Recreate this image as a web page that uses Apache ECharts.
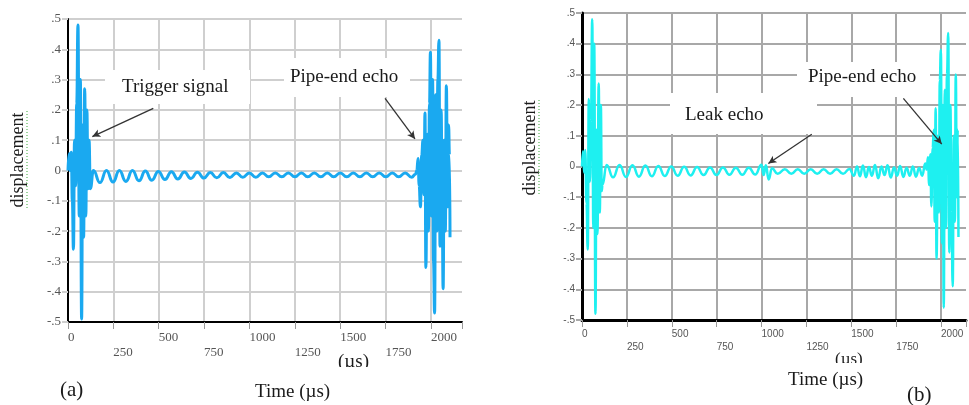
<!DOCTYPE html>
<html><head><meta charset="utf-8">
<script src="https://cdn.jsdelivr.net/npm/echarts@6/dist/echarts.min.js"></script>
<style>html,body{margin:0;padding:0;background:#fff}#c{width:969px;height:405px}</style>
</head><body><div id="c"></div>
<script>
// ---- data (time in µs, displacement) ----
const xTickValues = [0, 250, 500, 750, 1000, 1250, 1500, 1750, 2000];
const yTickValues = [-0.5, -0.4, -0.3, -0.2, -0.1, 0, 0.1, 0.2, 0.3, 0.4, 0.5];

const triggerA = [[0,0],[6,0.055],[12,0.0],[18,0.06],[24,-0.1],[30,-0.26],[36,0.1],[42,-0.05],[48,0.22],[55,0.48],[62,-0.15],[68,0.3],[75,-0.49],[81,0.15],[86,-0.22],[92,0.27],[98,-0.15],[104,0.2],[110,-0.06],[116,0.1],[123,-0.06]];
const rippleA = [[140,0.0],[176,-0.04],[212,0.0],[248,-0.038],[283,0.0],[319,-0.036],[355,0.0],[391,-0.034],[426,-0.002],[462,-0.032],[498,-0.003],[534,-0.03],[570,-0.004],[605,-0.028],[641,-0.005],[677,-0.026],[713,-0.006],[749,-0.025],[784,-0.007],[820,-0.024],[856,-0.007],[892,-0.023],[928,-0.008],[963,-0.022],[999,-0.008],[1035,-0.022],[1071,-0.008],[1106,-0.021],[1142,-0.008],[1178,-0.021],[1214,-0.008],[1250,-0.021],[1286,-0.008],[1321,-0.021],[1357,-0.008],[1393,-0.021],[1429,-0.008],[1464,-0.021],[1500,-0.008],[1536,-0.021],[1572,-0.008],[1608,-0.021],[1644,-0.008],[1679,-0.021],[1715,-0.008],[1751,-0.021],[1787,-0.008],[1822,-0.021],[1858,-0.008],[1894,-0.022],[1915,-0.012]];
const echoA = [[1922,0.0],[1929,0.04],[1935,-0.05],[1942,-0.12],[1949,0.05],[1956,0.1],[1962,-0.08],[1967,0.19],[1972,-0.32],[1979,0.12],[1986,-0.2],[1992,0.22],[1997,0.39],[2003,-0.15],[2009,0.3],[2014,-0.3],[2020,-0.47],[2026,0.25],[2032,-0.2],[2038,0.3],[2044,0.43],[2050,-0.25],[2056,0.2],[2062,-0.15],[2067,-0.39],[2073,0.1],[2079,-0.2],[2085,0.28],[2091,-0.12],[2097,0.15],[2102,0.05],[2105,-0.22]];

const triggerB = [[0,0],[6,0.05],[12,-0.02],[18,0.054],[25,-0.12],[32,-0.27],[38,0.22],[44,-0.05],[50,0.15],[57,0.48],[63,-0.2],[68,0.4],[75,-0.48],[81,0.12],[86,-0.22],[93,0.27],[99,-0.15],[105,0.2],[110,-0.08],[114,-0.06]];
const rippleB = [[137,0.005],[173,-0.035],[209,0.005],[245,-0.034],[281,0.004],[317,-0.033],[353,0.003],[389,-0.032],[425,0.002],[461,-0.031],[497,0.0],[533,-0.03],[569,-0.001],[605,-0.029],[641,-0.002],[677,-0.028],[713,-0.003],[749,-0.028],[785,-0.003],[821,-0.027],[857,-0.004],[893,-0.027],[929,-0.004],[965,-0.026],[1000,0.006],[1012,-0.028],[1024,0.004],[1040,-0.042],[1058,-0.006],[1090,-0.024],[1130,-0.009],[1166,-0.024],[1202,-0.009],[1238,-0.024],[1274,-0.009],[1310,-0.024],[1346,-0.009],[1382,-0.024],[1418,-0.009],[1454,-0.024],[1490,-0.008],[1515,-0.03],[1532,0.0],[1548,-0.032],[1565,0.003],[1582,-0.035],[1598,-0.002],[1615,-0.03],[1632,0.005],[1650,-0.038],[1668,0.0],[1685,-0.028],[1702,0.004],[1720,-0.036],[1738,-0.003],[1755,-0.03],[1772,0.002],[1790,-0.034],[1808,-0.004],[1826,-0.03],[1843,0.0],[1860,-0.033],[1878,-0.005],[1895,-0.03],[1912,0.01]];
const echoB = [[1920,-0.01],[1927,0.03],[1934,-0.06],[1941,0.04],[1946,-0.13],[1953,0.06],[1960,0.12],[1965,-0.18],[1970,0.19],[1975,-0.3],[1982,0.1],[1988,-0.15],[1993,0.28],[1999,0.38],[2005,-0.25],[2010,0.2],[2015,-0.46],[2021,0.25],[2027,-0.2],[2033,0.3],[2040,0.435],[2046,-0.28],[2052,0.2],[2058,-0.15],[2065,-0.39],[2071,0.1],[2077,-0.18],[2082,0.3],[2088,-0.1],[2093,0.12],[2097,-0.23]];

// annotation arrows [fromT, fromV, toT, toV]
const arrowTriggerA = [470, 0.205, 134, 0.112];
const arrowEchoA = [1747, 0.238, 1912, 0.104];
const arrowLeakB = [1280, 0.105, 1038, 0.01];
const arrowEchoB = [1790, 0.222, 2004, 0.073];

const chart = echarts.init(document.getElementById('c'), null, {renderer: 'canvas'});
const serif = "'Liberation Serif','Times New Roman',serif";
const sans = "'Liberation Sans',Arial,sans-serif";

function yFmt(v) {
  const r = Math.round(v * 10);
  if (r === 0) return '0';
  const s = (Math.abs(r) / 10).toFixed(1).replace(/^0/, '');
  return (r < 0 ? '-' : '') + s;
}
function xFmt(v) {
  if (xTickValues.indexOf(v) < 0) return '';
  return (v % 500 === 0) ? String(v) : '\n' + v;
}
function arrow(a) {
  return {
    silent: true, symbol: ['none', 'arrow'], symbolSize: [6, 8], animation: false,
    lineStyle: {color: '#333', width: 1.3, type: 'solid'}, label: {show: false},
    emphasis: {disabled: true},
    data: [[{coord: [a[0], a[1]]}, {coord: [a[2], a[3]]}]]
  };
}
function xAxisCfg(idx, max, font, size, lh, gridColor, gridW, axW) {
  return {
    type: 'value', gridIndex: idx, min: 0, max: max, interval: 250,
    axisLine: {onZero: false, lineStyle: {color: '#000', width: axW}},
    axisTick: {show: true, length: 7, lineStyle: {color: '#999', width: 1}},
    axisLabel: {formatter: xFmt, align: 'left', margin: 8, fontFamily: font, fontSize: size, lineHeight: lh, color: '#555'},
    splitLine: {show: true, lineStyle: {color: [gridColor,gridColor,gridColor,gridColor,gridColor,gridColor,gridColor,gridColor,gridColor,'rgba(0,0,0,0)'], width: gridW}}
  };
}
function yAxisCfg(idx, font, size, gridColor, gridW, axW) {
  return {
    type: 'value', gridIndex: idx, min: -0.5, max: 0.5, interval: 0.1,
    axisLine: {show: true, onZero: false, lineStyle: {color: '#000', width: axW}},
    axisTick: {show: true, length: 6, lineStyle: {color: gridColor, width: gridW}},
    axisLabel: {formatter: yFmt, margin: 7, fontFamily: font, fontSize: size, color: '#555'},
    splitLine: {show: true, lineStyle: {color: gridColor, width: gridW}}
  };
}
function whiteBox(x, y, w, h, z) {
  return {type: 'rect', z: z || 1, silent: true, shape: {x: x, y: y, width: w, height: h}, style: {fill: '#fff'}};
}
function txt(x, y, s, size, extra) {
  return Object.assign({type: 'text', z: 10, silent: true, x: x, y: y,
    style: {text: s, font: size + 'px ' + serif, fill: '#1a1a1a', textAlign: 'left', textVerticalAlign: 'middle'}}, extra || {});
}

const option = {
  animation: false,
  backgroundColor: '#fff',
  grid: [
    {left: 68, top: 19, width: 394, height: 303},
    {left: 582, top: 13, width: 384, height: 307}
  ],
  xAxis: [
    xAxisCfg(0, 2171, serif, 13, 15, '#cfcfcf', 2, 2),
    xAxisCfg(1, 2139, sans, 10, 13, '#a8a8a8', 2, 3)
  ],
  yAxis: [
    yAxisCfg(0, serif, 13, '#cfcfcf', 2, 2),
    yAxisCfg(1, sans, 10, '#a8a8a8', 2, 3)
  ],
  series: [
    {type: 'line', xAxisIndex: 0, yAxisIndex: 0, data: triggerA.concat(rippleA, echoA),
     showSymbol: false, smooth: 0.5, smoothMonotone: 'x', lineStyle: {color: '#1aa9f0', width: 3}, z: 3},
    {type: 'line', xAxisIndex: 0, yAxisIndex: 0, data: [], markLine: arrow(arrowTriggerA), z: 4},
    {type: 'line', xAxisIndex: 0, yAxisIndex: 0, data: [], markLine: arrow(arrowEchoA), z: 4},
    {type: 'line', xAxisIndex: 1, yAxisIndex: 1, data: triggerB.concat(rippleB, echoB),
     showSymbol: false, smooth: 0.5, smoothMonotone: 'x', lineStyle: {color: '#1ef0f0', width: 2.5}, z: 3},
    {type: 'line', xAxisIndex: 1, yAxisIndex: 1, data: [], markLine: arrow(arrowLeakB), z: 4},
    {type: 'line', xAxisIndex: 1, yAxisIndex: 1, data: [], markLine: arrow(arrowEchoB), z: 4}
  ],
  graphic: [
    whiteBox(105, 70, 145, 34),
    whiteBox(284, 58, 126, 39),
    whiteBox(670, 93, 147, 41),
    whiteBox(797, 62, 133, 35),
    txt(122, 87, 'Trigger signal', 19),
    txt(290, 77, 'Pipe-end echo', 19),
    txt(685, 115, 'Leak echo', 19),
    txt(808, 77, 'Pipe-end echo', 19),
    txt(18, 160, 'displacement', 18, {rotation: Math.PI / 2, style: {text: 'displacement', font: '18px ' + serif, fill: '#1a1a1a', textAlign: 'center', textVerticalAlign: 'middle'}}),
    txt(530, 148, 'displacement', 18, {rotation: Math.PI / 2, style: {text: 'displacement', font: '18px ' + serif, fill: '#1a1a1a', textAlign: 'center', textVerticalAlign: 'middle'}}),
    {type: 'line', z: 10, silent: true, shape: {x1: 27, y1: 111, x2: 27, y2: 208}, style: {stroke: '#5cb85c', lineWidth: 1.2, lineDash: [1, 2]}},
    {type: 'line', z: 10, silent: true, shape: {x1: 539, y1: 100, x2: 539, y2: 196}, style: {stroke: '#5cb85c', lineWidth: 1.2, lineDash: [1, 2]}},
    txt(338, 362, '(µs)', 19),
    whiteBox(330, 367, 55, 12, 20),
    txt(255, 392, 'Time (µs)', 19),
    txt(835, 360, '(µs)', 17),
    whiteBox(828, 363, 45, 8, 20),
    txt(788, 380, 'Time (µs)', 19),
    txt(60, 390, '(a)', 21),
    txt(907, 395, '(b)', 21)
  ]
};
chart.setOption(option);
</script></body></html>
